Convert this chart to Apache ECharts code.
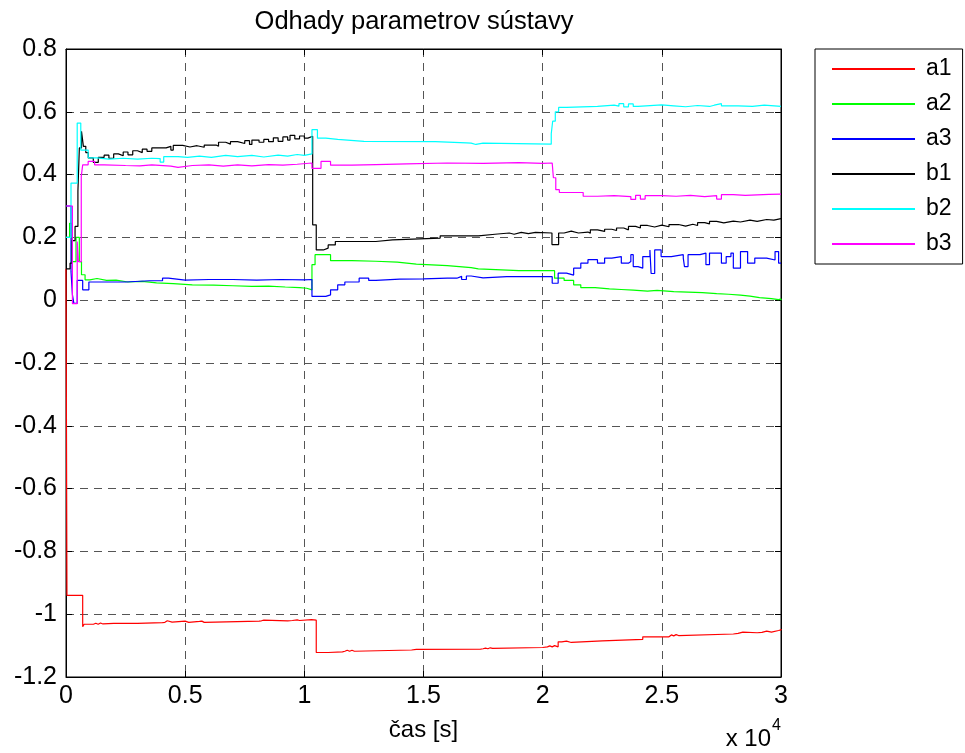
<!DOCTYPE html>
<html>
<head>
<meta charset="utf-8">
<script src="https://cdn.jsdelivr.net/npm/echarts@6/dist/echarts.min.js"></script>
<style>
  html, body { margin: 0; padding: 0; background: #fff; }
  #chart { width: 965px; height: 753px; }
</style>
</head>
<body>
<div id="chart"></div>
<script>
// Parameter estimates over time: [time in s, value]
const a1 = [[0,0.10],[40,-0.94],[700,-1.040],[760,-1.032],[1150,-1.029],[1250,-1.032],[1350,-1.028],[1450,-1.031],[1550,-1.029],[2000,-1.029],[3000,-1.027],[4050,-1.026],[4150,-1.021],[4250,-1.025],[4450,-1.022],[5000,-1.023],[5050,-1.026],[5150,-1.023],[5600,-1.022],[5700,-1.026],[5800,-1.022],[8100,-1.021],[8200,-1.019],[8300,-1.021],[9300,-1.020],[9500,-1.018],[9700,-1.020],[9800,-1.017],[10300,-1.019],[10500,-1.122],[11000,-1.120],[11600,-1.118],[11700,-1.115],[11800,-1.118],[11900,-1.115],[12000,-1.118],[12100,-1.114],[14500,-1.112],[14700,-1.111],[17400,-1.110],[17500,-1.108],[17600,-1.110],[17700,-1.107],[17800,-1.109],[17900,-1.106],[20000,-1.104],[20200,-1.101],[20300,-1.104],[20400,-1.100],[20500,-1.104],[20650,-1.088],[20800,-1.086],[21000,-1.090],[21200,-1.085],[22500,-1.080],[24200,-1.072],[25300,-1.066],[25400,-1.069],[25500,-1.065],[25600,-1.068],[25700,-1.063],[28000,-1.061],[28200,-1.057],[28400,-1.059],[29000,-1.058],[29200,-1.054],[29400,-1.057],[29600,-1.052],[29900,-1.050],[30000,-1.047]];

const a2 = [[0,0.200],[150,0.245],[240,0.123],[420,0.200],[560,0.123],[650,0.081],[800,0.065],[1000,0.069],[1300,0.063],[1700,0.064],[2100,0.058],[2600,0.060],[3200,0.055],[3800,0.053],[4500,0.049],[5300,0.048],[6200,0.046],[7000,0.044],[7800,0.045],[8500,0.042],[9200,0.040],[9800,0.038],[10100,0.033],[10320,0.113],[10450,0.145],[11000,0.145],[11100,0.126],[12000,0.124],[13000,0.121],[13900,0.115],[14700,0.110],[16000,0.107],[16500,0.104],[17000,0.100],[17300,0.094],[19000,0.094],[20400,0.094],[20500,0.070],[20900,0.063],[21300,0.049],[21600,0.040],[22200,0.036],[22800,0.034],[23300,0.032],[23800,0.029],[24400,0.031],[24800,0.027],[25500,0.026],[26100,0.024],[26700,0.021],[27300,0.019],[27800,0.016],[28300,0.013],[28700,0.008],[29100,0.005],[29600,0.002],[29900,0.004],[30000,0.000]];

const a3 = [[0,0.300],[210,0.091],[270,0.017],[330,-0.010],[470,0.063],[700,0.033],[960,0.058],[1500,0.058],[2500,0.062],[3500,0.062],[4050,0.070],[4300,0.064],[5000,0.066],[6000,0.066],[7000,0.064],[8000,0.066],[9000,0.065],[10000,0.066],[10320,0.012],[10900,0.017],[11100,0.033],[11400,0.049],[11700,0.058],[12300,0.070],[12700,0.063],[13000,0.067],[14000,0.068],[15000,0.070],[16000,0.070],[16400,0.076],[16600,0.066],[16800,0.077],[17000,0.071],[17500,0.075],[18500,0.075],[19500,0.075],[20300,0.075],[20400,0.054],[20650,0.086],[21000,0.080],[21300,0.102],[21600,0.118],[21900,0.129],[22300,0.118],[22600,0.134],[22900,0.139],[23300,0.118],[23600,0.123],[23700,0.145],[23800,0.107],[24000,0.102],[24200,0.139],[24500,0.160],[24550,0.085],[24700,0.160],[24970,0.139],[25400,0.145],[25900,0.134],[25950,0.107],[26100,0.145],[26600,0.150],[26850,0.113],[27000,0.150],[27300,0.150],[27500,0.118],[27700,0.139],[27900,0.150],[28000,0.102],[28300,0.155],[28600,0.118],[28900,0.134],[29400,0.128],[29750,0.155],[29900,0.118],[30000,0.118]];

const b1 = [[0,0.100],[170,0.118],[260,0.190],[380,0.235],[500,0.347],[560,0.485],[650,0.538],[730,0.490],[830,0.470],[935,0.453],[1145,0.439],[1355,0.455],[1600,0.462],[1800,0.452],[2000,0.466],[2200,0.460],[2400,0.472],[2600,0.463],[2800,0.476],[3000,0.470],[3200,0.481],[3400,0.474],[3600,0.485],[4200,0.490],[4400,0.478],[4500,0.493],[4900,0.488],[5200,0.492],[5500,0.487],[5800,0.494],[6300,0.490],[6400,0.503],[6700,0.497],[6900,0.505],[7200,0.499],[7500,0.508],[7700,0.496],[7800,0.510],[8100,0.503],[8300,0.512],[8500,0.505],[8700,0.517],[8900,0.506],[9100,0.520],[9300,0.510],[9400,0.525],[9600,0.514],[9800,0.523],[10000,0.516],[10150,0.522],[10350,0.240],[10500,0.160],[10800,0.166],[11000,0.176],[11300,0.187],[13000,0.192],[13700,0.198],[15700,0.205],[17300,0.210],[18000,0.214],[18600,0.210],[18800,0.216],[19100,0.212],[19400,0.216],[19700,0.214],[20390,0.177],[20670,0.214],[20900,0.220],[21200,0.214],[21500,0.217],[21900,0.213],[22000,0.224],[22300,0.219],[22600,0.226],[22900,0.222],[23100,0.230],[23400,0.224],[23600,0.235],[23900,0.230],[24100,0.238],[24400,0.233],[24700,0.239],[25000,0.234],[25300,0.241],[25700,0.236],[26000,0.242],[26300,0.238],[26500,0.247],[26800,0.243],[27000,0.251],[27300,0.246],[27600,0.252],[28000,0.249],[28300,0.255],[28700,0.251],[29000,0.257],[29400,0.255],[29700,0.260],[30000,0.262]];

const b2 = [[0,0.200],[210,0.373],[470,0.564],[620,0.478],[930,0.453],[1300,0.449],[1800,0.452],[2400,0.449],[3000,0.452],[3600,0.451],[3950,0.440],[4100,0.457],[4700,0.455],[5100,0.459],[5600,0.455],[6100,0.461],[6700,0.457],[7200,0.461],[7800,0.456],[8300,0.462],[8900,0.459],[9300,0.464],[9700,0.461],[10000,0.466],[10320,0.543],[10550,0.516],[10900,0.512],[11400,0.506],[12500,0.505],[15500,0.501],[16800,0.500],[17000,0.496],[17200,0.500],[17500,0.497],[20360,0.530],[20420,0.570],[20530,0.600],[20670,0.614],[21000,0.617],[22300,0.621],[23000,0.618],[23200,0.626],[23400,0.616],[23600,0.625],[23800,0.617],[24000,0.622],[25000,0.619],[25500,0.616],[26000,0.620],[26500,0.617],[27000,0.621],[27200,0.626],[27500,0.619],[28200,0.617],[28800,0.621],[29300,0.617],[30000,0.615]];

const b3 = [[0,0.300],[270,-0.011],[470,0.187],[520,0.123],[640,0.394],[700,0.431],[930,0.442],[1200,0.431],[1600,0.429],[2500,0.428],[3100,0.431],[3600,0.427],[4400,0.423],[4700,0.429],[5300,0.431],[6000,0.427],[6600,0.431],[7200,0.428],[7800,0.432],[8500,0.430],[9100,0.433],[9700,0.437],[10320,0.420],[10700,0.442],[11100,0.430],[12000,0.432],[13000,0.434],[14300,0.437],[16000,0.436],[17500,0.438],[19000,0.436],[20000,0.437],[20400,0.434],[20450,0.390],[20550,0.352],[20700,0.343],[21700,0.331],[22300,0.333],[23000,0.330],[23700,0.321],[23900,0.334],[24100,0.322],[24300,0.333],[25000,0.331],[25600,0.334],[26200,0.330],[26800,0.333],[27300,0.322],[27500,0.336],[28000,0.334],[28500,0.337],[29500,0.338],[30000,0.339]];

const seriesNames = ['a1', 'a2', 'a3', 'b1', 'b2', 'b3'];
const seriesData = [a1, a2, a3, b1, b2, b3];
const seriesColors = ['#ff0000', '#00ff00', '#0000ff', '#000000', '#00ffff', '#ff00ff'];

const FONT = '"Liberation Sans", Arial, Helvetica, sans-serif';
const gridLine = { show: true, lineStyle: { color: '#555', width: 1, type: [8, 6] } };
const frameTick = { show: true, inside: true, length: 6, lineStyle: { color: '#000' } };

const chart = echarts.init(document.getElementById('chart'), null, { renderer: 'canvas' });

chart.setOption({
  animation: false,
  backgroundColor: '#fff',
  grid: {
    left: 66, right: 184, top: 49, bottom: 76,
    show: true, borderColor: '#000', borderWidth: 1, backgroundColor: '#fff'
  },
  legend: {
    data: seriesNames,
    orient: 'vertical',
    left: 815, top: 49,
    backgroundColor: '#fff',
    borderColor: '#000', borderWidth: 1, borderRadius: 0,
    padding: [8, 11, 8, 17],
    itemGap: 11,
    itemWidth: 83, itemHeight: 24,
    icon: 'path://M0,0H83V2H0Z',
    symbolKeepAspect: true,
    textStyle: { fontFamily: FONT, fontSize: 23, color: '#000', lineHeight: 24, padding: [0, 0, 0, 6] }
  },
  xAxis: [{
    type: 'value', min: 0, max: 30000, interval: 5000,
    name: 'čas [s]', nameLocation: 'middle', nameGap: 41,
    nameTextStyle: { fontFamily: FONT, fontSize: 24, color: '#000' },
    axisLine: { show: true, onZero: false, lineStyle: { color: '#000', width: 1 } },
    axisTick: frameTick,
    axisLabel: { fontFamily: FONT, fontSize: 25, color: '#000', margin: 7,
                 formatter: v => String(v / 10000) },
    splitLine: gridLine
  }, {
    type: 'value', min: 0, max: 30000, interval: 5000, position: 'top',
    axisLine: { show: true, onZero: false, lineStyle: { color: '#000', width: 1 } },
    axisTick: frameTick,
    axisLabel: { show: false }, splitLine: { show: false }
  }],
  yAxis: [{
    type: 'value', min: -1.2, max: 0.8, interval: 0.2,
    axisLine: { show: true, onZero: false, lineStyle: { color: '#000', width: 1 } },
    axisTick: frameTick,
    axisLabel: { fontFamily: FONT, fontSize: 25, color: '#000', margin: 9 },
    splitLine: gridLine
  }, {
    type: 'value', min: -1.2, max: 0.8, interval: 0.2, position: 'right',
    axisLine: { show: true, onZero: false, lineStyle: { color: '#000', width: 1 } },
    axisTick: frameTick,
    axisLabel: { show: false }, splitLine: { show: false }
  }],
  series: seriesNames.map((name, i) => ({
    name: name,
    type: 'line',
    xAxisIndex: 0, yAxisIndex: 0,
    step: 'end',
    symbol: 'none',
    color: seriesColors[i],
    lineStyle: { color: seriesColors[i], width: 1.2 },
    data: seriesData[i]
  })),
  graphic: [
    { type: 'text', x: 414, y: 22, style: { text: 'Odhady parametrov sústavy', font: '25.5px ' + FONT,
      fill: '#000', align: 'center', verticalAlign: 'middle', textAlign: 'center', textVerticalAlign: 'middle' } },
    { type: 'text', x: 771, y: 739, style: { text: 'x 10', font: '24px ' + FONT,
      fill: '#000', align: 'right', verticalAlign: 'middle', textAlign: 'right', textVerticalAlign: 'middle' } },
    { type: 'text', x: 772, y: 726, style: { text: '4', font: '16px ' + FONT,
      fill: '#000', align: 'left', verticalAlign: 'middle', textAlign: 'left', textVerticalAlign: 'middle' } }
  ]
});
</script>
</body>
</html>
